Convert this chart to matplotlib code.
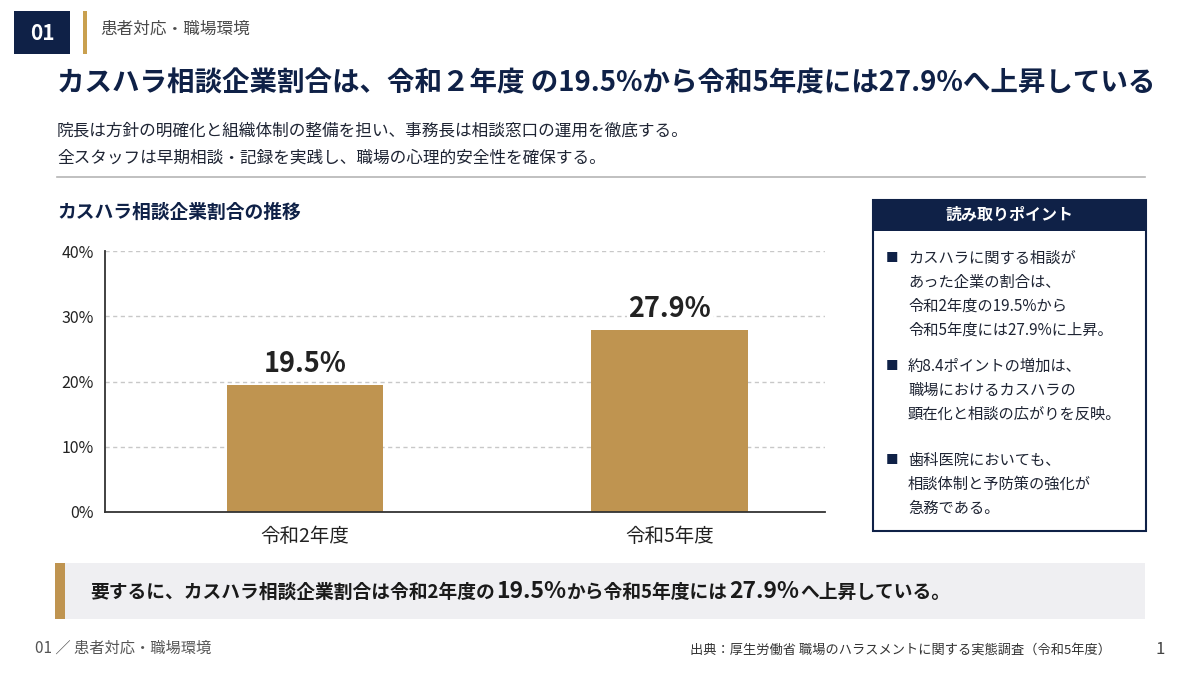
import matplotlib
matplotlib.use("Agg")
import matplotlib.pyplot as plt
from matplotlib.patches import Rectangle

plt.rcParams["font.family"] = ["Noto Sans CJK JP", "DejaVu Sans"]

# data
categories = ["令和2年度", "令和5年度"]
rates = [19.5, 27.9]
y_ticks = [0, 10, 20, 30, 40]
y_tick_labels = ["0%", "10%", "20%", "30%", "40%"]

section_no = "01"
section_name = "患者対応・職場環境"
headline = "カスハラ相談企業割合は、令和２年度 の19.5%から令和5年度には27.9%へ上昇している"
sub_lines = [
    "院長は方針の明確化と組織体制の整備を担い、事務長は相談窓口の運用を徹底する。",
    "全スタッフは早期相談・記録を実践し、職場の心理的安全性を確保する。",
]
chart_title = "カスハラ相談企業割合の推移"
panel_title = "読み取りポイント"
points = [
    ["カスハラに関する相談が", "あった企業の割合は、", "令和2年度の19.5%から", "令和5年度には27.9%に上昇。"],
    ["約8.4ポイントの増加は、", "職場におけるカスハラの", "顕在化と相談の広がりを反映。"],
    ["歯科医院においても、", "相談体制と予防策の強化が", "急務である。"],
]
summary_parts = [
    ("要するに、カスハラ相談企業割合は令和2年度の", 13.5),
    ("19.5%", 16.5),
    ("から令和5年度には", 13.5),
    ("27.9%", 16.5),
    ("へ上昇している。", 13.5),
]
footer_left = "01 ／ 患者対応・職場環境"
source = "出典：厚生労働省 職場のハラスメントに関する実態調査（令和5年度）"
page_no = "1"

NAVY = "#0f2147"
GOLD = "#bf9450"
TEXT = "#1e2433"

W, H = 1200, 675
fig = plt.figure(figsize=(12, 6.75), dpi=100)
fig.patch.set_facecolor("white")


def fx(x):
    return x / W


def fy(y):
    return 1 - y / H


def rect(x, y, w, h, **kw):
    fig.add_artist(Rectangle((fx(x), fy(y + h)), w / W, h / H,
                             transform=fig.transFigure, **kw))


def text(x, y, s, **kw):
    kw.setdefault("va", "center")
    return fig.text(fx(x), fy(y), s, **kw)


# header
rect(14, 11, 56, 43, color=NAVY, lw=0)
text(42, 33, section_no, color="white", fontsize=15, fontweight="bold", ha="center")
rect(83, 11, 4, 43, color="#c9a04f", lw=0)
text(100, 29, section_name, color="#4a4a4a", fontsize=12)

text(57, 83, headline, color=NAVY, fontsize=19.8, fontweight="bold")
text(57, 131, sub_lines[0], color=TEXT, fontsize=12)
text(57, 158, sub_lines[1], color=TEXT, fontsize=12)
fig.add_artist(plt.Line2D([fx(57), fx(1145)], [fy(177), fy(177)],
                          color="#b5b5b5", lw=1.2, transform=fig.transFigure))

text(57, 212, chart_title, color=NAVY, fontsize=13.5, fontweight="bold")

# bar chart
ax = fig.add_axes([fx(105), fy(512), 720 / W, 261 / H])
x = range(len(categories))
ax.bar(x, rates, width=0.43, color=GOLD, zorder=2)
ax.set_xlim(-0.548, 1.425)
ax.set_ylim(0, 40)
ax.set_yticks(y_ticks)
ax.set_yticklabels(y_tick_labels, fontsize=11.5, color="#222222")
ax.set_xticks(list(x))
ax.set_xticklabels(categories, fontsize=14, color="#222222")
ax.tick_params(axis="both", length=0)
ax.tick_params(axis="x", pad=10)
ax.tick_params(axis="y", pad=8)
for v in y_ticks[1:]:
    ax.axhline(v, color="#c8c8c8", lw=1, ls=(0, (3, 2.5)), zorder=1)
for s in ["top", "right"]:
    ax.spines[s].set_visible(False)
ax.spines["left"].set_color("#333333")
ax.spines["bottom"].set_color("#333333")
ax.spines["left"].set_linewidth(1.3)
ax.spines["bottom"].set_linewidth(1.3)
ax.set_facecolor("none")
for xi, v in zip(x, rates):
    ax.annotate(f"{v}%", (xi, v), xytext=(0, 5), textcoords="offset points",
                ha="center", va="bottom", fontsize=19.5, fontweight="bold",
                color="#222222", zorder=3,
                bbox=dict(facecolor="white", edgecolor="none", pad=1))

# right panel
rect(873, 200, 273, 331, facecolor="white", edgecolor=NAVY, lw=1.5)
rect(873, 200, 273, 31, color=NAVY, lw=0)
text(1009.5, 215, panel_title, color="white", fontsize=11.5, fontweight="bold", ha="center")
group_y = [258, 366, 460]
for gy, lines in zip(group_y, points):
    text(892, gy, "■", color=NAVY, fontsize=9, ha="center")
    for i, ln in enumerate(lines):
        text(908, gy + i * 24, ln, color=TEXT, fontsize=11)

# summary banner
rect(55, 563, 1090, 56, color="#efeff2", lw=0)
rect(55, 563, 10, 56, color=GOLD, lw=0)
fig.canvas.draw()
renderer = fig.canvas.get_renderer()
cx = 90
for s, size in summary_parts:
    t = text(cx, 592, s, color="#1a1a1a", fontsize=size, fontweight="bold")
    cx += t.get_window_extent(renderer).width + 1

# footer
text(35, 648, footer_left, color="#555555", fontsize=11)
text(690, 650, source, color="#333333", fontsize=9.5)
text(1160, 650, page_no, color="#444444", fontsize=12, ha="center")

fig.savefig("out.png", dpi=100)
